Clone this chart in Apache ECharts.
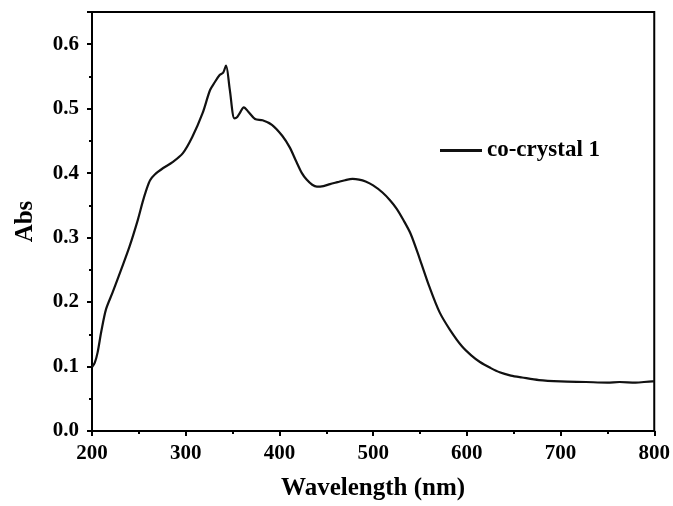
<!DOCTYPE html>
<html>
<head>
<meta charset="utf-8">
<script src="https://cdn.jsdelivr.net/npm/echarts@6/dist/echarts.min.js"></script>
<style>
html, body { margin: 0; padding: 0; background: #fff; }
#main { width: 673px; height: 506px; }
</style>
</head>
<body>
<div id="main"></div>
<script>
// wavelength (nm) and absorbance
const wavelength = [200, 203, 206, 210, 215, 222, 231, 240, 249, 254, 258, 262, 267, 276, 286, 297, 307, 318, 326, 331, 336, 340, 343, 347, 352, 355, 358, 362, 367, 374, 382, 392, 403, 411, 418, 424, 429, 435, 440, 447, 454, 462, 470, 478, 485, 492, 500, 510, 518, 525, 532, 540, 550, 560, 571, 582, 595, 605, 614, 625, 635, 647, 659, 677, 700, 727, 750, 763, 780, 798, 800];
const absorbance = [0.099, 0.106, 0.122, 0.155, 0.189, 0.215, 0.250, 0.286, 0.328, 0.355, 0.374, 0.389, 0.398, 0.408, 0.417, 0.431, 0.456, 0.493, 0.529, 0.541, 0.552, 0.556, 0.567, 0.530, 0.485, 0.487, 0.494, 0.502, 0.495, 0.484, 0.482, 0.475, 0.458, 0.440, 0.418, 0.400, 0.390, 0.382, 0.379, 0.380, 0.383, 0.386, 0.389, 0.391, 0.390, 0.387, 0.381, 0.370, 0.358, 0.345, 0.328, 0.306, 0.266, 0.224, 0.184, 0.157, 0.131, 0.117, 0.107, 0.098, 0.091, 0.086, 0.083, 0.079, 0.077, 0.076, 0.075, 0.076, 0.075, 0.077, 0.077];
const seriesName = "co-crystal 1";

const font = "'Liberation Serif', 'Times New Roman', serif";
const chart = echarts.init(document.getElementById("main"));

chart.setOption({
    animation: false,
    grid: {
        left: 92, right: 18, top: 12, bottom: 74,
        show: true, borderColor: "#000", borderWidth: 2
    },
    legend: {
        left: 435, top: 134,
        icon: "rect", itemWidth: 42, itemHeight: 3, itemGap: 8,
        textStyle: { fontFamily: font, fontWeight: "bold", fontSize: 23, color: "#000" },
        data: [seriesName]
    },
    xAxis: {
        type: "value", min: 200, max: 800, interval: 100,
        name: "Wavelength (nm)", nameLocation: "middle", nameGap: 45,
        nameTextStyle: { fontFamily: font, fontWeight: "bold", fontSize: 25, color: "#000" },
        axisLine: { lineStyle: { color: "#000", width: 2 } },
        axisTick: { inside: false, length: 5, lineStyle: { width: 2 } },
        minorTick: { show: true, splitNumber: 2, length: 3, lineStyle: { color: "#000", width: 2 } },
        splitLine: { show: false },
        axisLabel: { margin: 12, fontFamily: font, fontWeight: "bold", fontSize: 21, color: "#000" }
    },
    yAxis: {
        type: "value", min: 0, max: 0.65, interval: 0.1,
        name: "Abs", nameLocation: "middle", nameGap: 54,
        nameTextStyle: { fontFamily: font, fontWeight: "bold", fontSize: 25, color: "#000" },
        axisLine: { show: true, lineStyle: { color: "#000", width: 2 } },
        axisTick: { show: true, inside: false, length: 5, lineStyle: { width: 2 } },
        minorTick: { show: true, splitNumber: 2, length: 3, lineStyle: { color: "#000", width: 2 } },
        splitLine: { show: false },
        axisLabel: {
            margin: 13, fontFamily: font, fontWeight: "bold", fontSize: 21, color: "#000",
            formatter: (v) => (v > 0.61 ? "" : v.toFixed(1))
        }
    },
    series: [{
        name: seriesName,
        type: "line",
        showSymbol: false,
        smooth: 0.3,
        lineStyle: { color: "#111", width: 2.2 },
        itemStyle: { color: "#111" },
        data: wavelength.map((w, i) => [w, absorbance[i]])
    }]
});
</script>
</body>
</html>
